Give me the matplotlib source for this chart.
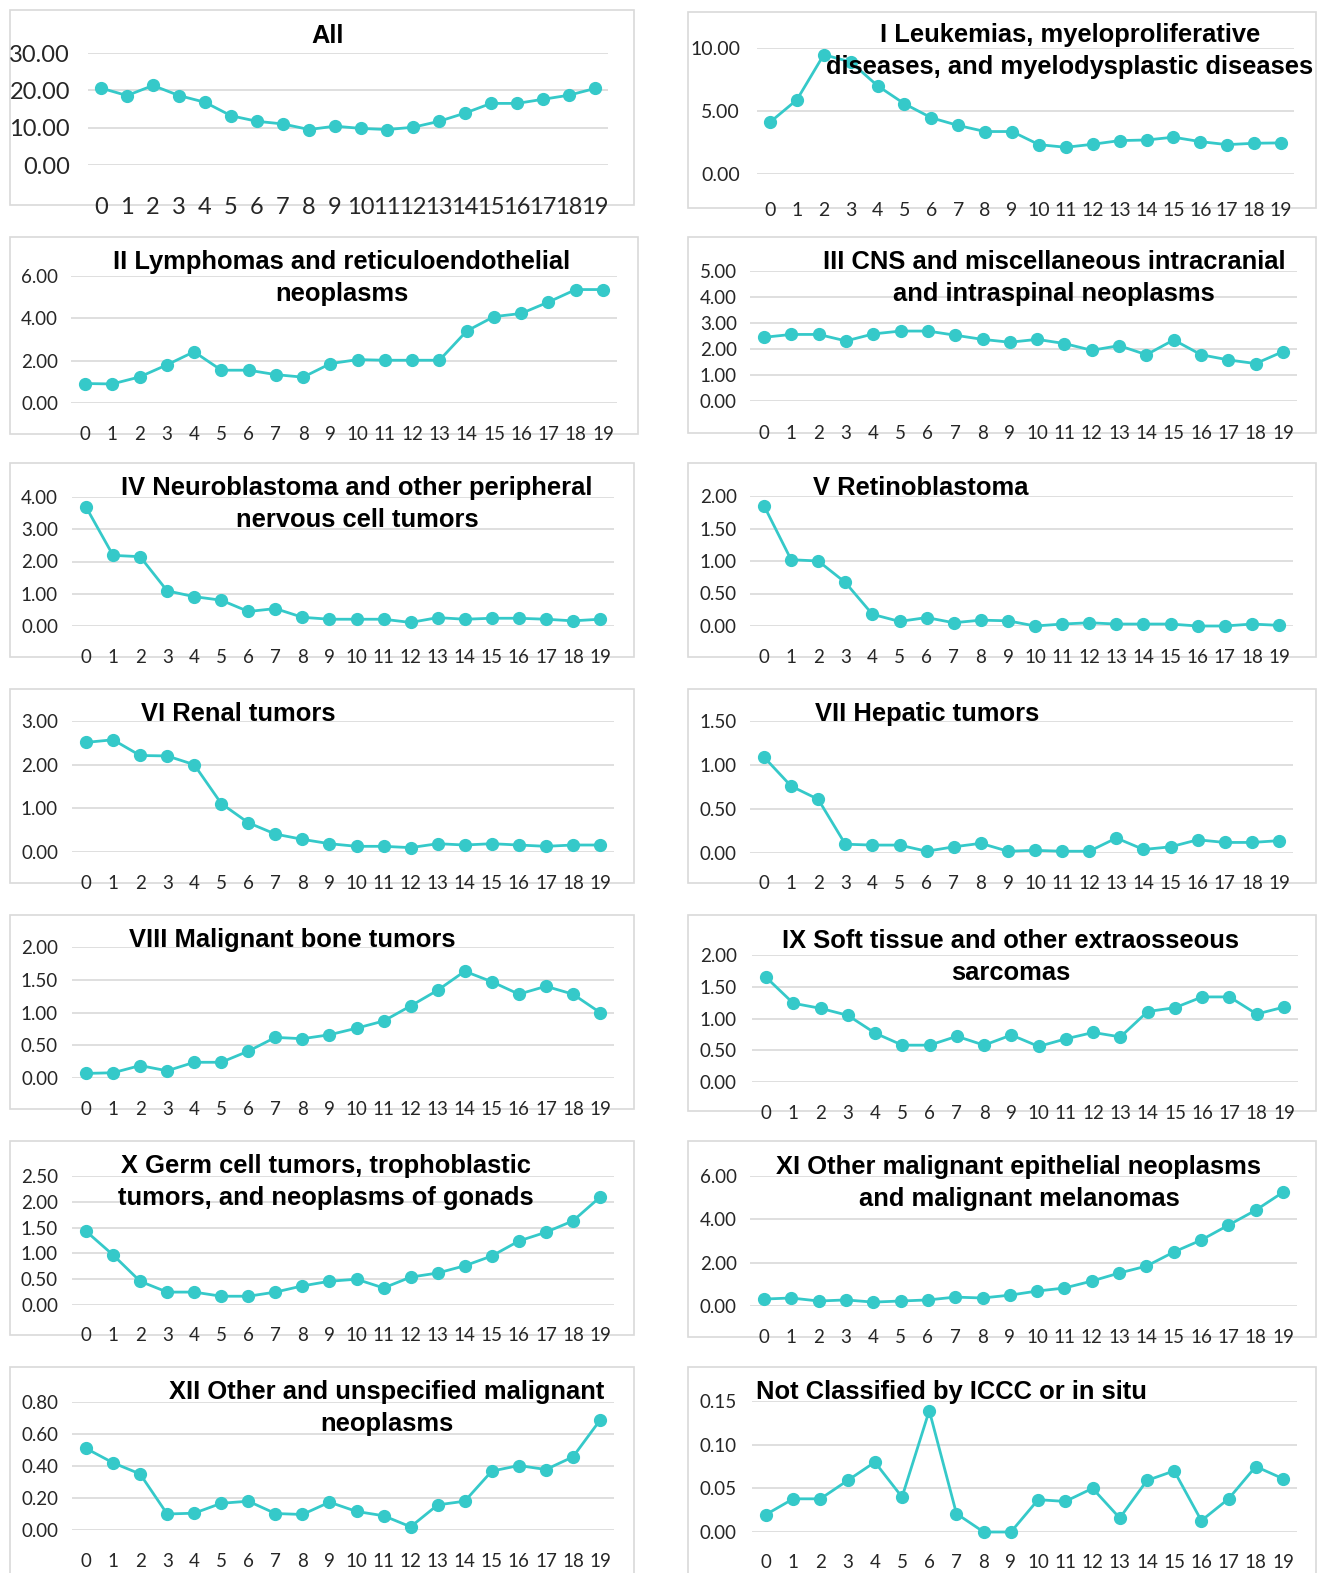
import matplotlib.pyplot as plt
from matplotlib.patches import Rectangle

W, H = 1320, 1573

# age at diagnosis (years)
ages = list(range(20))
age_labels = [str(a) for a in ages]

# incidence rates per panel
all_sites = [20.6, 18.6, 21.3, 18.6, 16.8, 13.2, 11.7, 11.0, 9.5, 10.4,
             9.8, 9.5, 10.1, 11.7, 13.9, 16.5, 16.5, 17.6, 18.7, 20.5]
leukemias = [4.11, 5.89, 9.47, 8.89, 7.00, 5.57, 4.46, 3.85, 3.37, 3.37,
             2.33, 2.12, 2.36, 2.65, 2.70, 2.92, 2.57, 2.33, 2.44, 2.47]
lymphomas = [0.92, 0.90, 1.23, 1.80, 2.42, 1.55, 1.55, 1.34, 1.22, 1.86,
             2.05, 2.02, 2.02, 2.02, 3.40, 4.08, 4.23, 4.77, 5.36, 5.36]
cns = [2.45, 2.56, 2.56, 2.31, 2.58, 2.69, 2.69, 2.53, 2.37, 2.26,
       2.37, 2.21, 1.95, 2.13, 1.78, 2.35, 1.78, 1.58, 1.44, 1.90]
neuroblastoma = [3.69, 2.19, 2.15, 1.09, 0.91, 0.80, 0.45, 0.54, 0.27, 0.21,
                 0.21, 0.21, 0.11, 0.26, 0.21, 0.24, 0.24, 0.21, 0.16, 0.21]
retinoblastoma = [1.85, 1.02, 1.00, 0.67, 0.18, 0.07, 0.13, 0.05, 0.09, 0.08,
                  0.00, 0.03, 0.05, 0.03, 0.03, 0.03, 0.00, 0.00, 0.03, 0.01]
renal = [2.51, 2.57, 2.21, 2.20, 2.00, 1.11, 0.67, 0.41, 0.29, 0.19,
         0.13, 0.13, 0.10, 0.19, 0.16, 0.19, 0.16, 0.13, 0.16, 0.16]
hepatic = [1.09, 0.76, 0.61, 0.10, 0.09, 0.09, 0.02, 0.07, 0.11, 0.02,
           0.03, 0.02, 0.02, 0.17, 0.04, 0.07, 0.15, 0.12, 0.12, 0.14]
bone = [0.07, 0.08, 0.19, 0.11, 0.24, 0.24, 0.41, 0.62, 0.60, 0.66,
        0.76, 0.87, 1.10, 1.34, 1.63, 1.47, 1.28, 1.40, 1.28, 1.00]
soft_tissue = [1.65, 1.24, 1.16, 1.05, 0.77, 0.58, 0.58, 0.72, 0.58, 0.74,
               0.56, 0.68, 0.78, 0.71, 1.11, 1.17, 1.34, 1.34, 1.07, 1.18]
germ_cell = [1.43, 0.97, 0.46, 0.25, 0.25, 0.17, 0.17, 0.25, 0.37, 0.46,
             0.50, 0.33, 0.54, 0.62, 0.76, 0.95, 1.24, 1.41, 1.63, 2.09]
epithelial = [0.32, 0.37, 0.23, 0.28, 0.18, 0.23, 0.28, 0.41, 0.37, 0.50,
              0.69, 0.83, 1.15, 1.52, 1.84, 2.49, 3.04, 3.73, 4.42, 5.25]
other_unspecified = [0.51, 0.42, 0.35, 0.10, 0.105, 0.167, 0.18, 0.103, 0.097, 0.174,
                     0.116, 0.089, 0.02, 0.157, 0.18, 0.368, 0.403, 0.378, 0.457, 0.686]
not_classified = [0.020, 0.038, 0.038, 0.059, 0.080, 0.040, 0.139, 0.021, 0.000, 0.000,
                  0.037, 0.035, 0.050, 0.016, 0.059, 0.070, 0.013, 0.038, 0.075, 0.061]

# y ticks per panel
ticks_all = [0, 10, 20, 30]
ticks_leuk = [0, 5, 10]
ticks_lymph = [0, 2, 4, 6]
ticks_cns = [0, 1, 2, 3, 4, 5]
ticks_neuro = [0, 1, 2, 3, 4]
ticks_retino = [0, 0.5, 1.0, 1.5, 2.0]
ticks_renal = [0, 1, 2, 3]
ticks_hepatic = [0, 0.5, 1.0, 1.5]
ticks_bone = [0, 0.5, 1.0, 1.5, 2.0]
ticks_soft = [0, 0.5, 1.0, 1.5, 2.0]
ticks_germ = [0, 0.5, 1.0, 1.5, 2.0, 2.5]
ticks_epi = [0, 2, 4, 6]
ticks_other = [0, 0.2, 0.4, 0.6, 0.8]
ticks_nc = [0, 0.05, 0.10, 0.15]

LINE_COLOR = '#35C9C9'
GRID_COLOR = '#D9D9D9'
TITLE_FONT = 'Liberation Sans'
TICK_FONT = 'Lato'

fig = plt.figure(figsize=(W / 100, H / 100), dpi=100)


def px_rect(x0, y0, x1, y1):
    return [x0 / W, 1 - y1 / H, (x1 - x0) / W, (y1 - y0) / H]


def panel(values, ticks, titles, frame, p0, p19, ytop, yzero, xlab_y, ylab_right,
          title_x, title_y, tick_size=13.5, title_size=18.4):
    # chart border
    fx0, fy0, fx1, fy1 = frame
    fig.add_artist(Rectangle((fx0 / W, 1 - fy1 / H), (fx1 - fx0) / W, (fy1 - fy0) / H,
                             transform=fig.transFigure, fill=False,
                             edgecolor=GRID_COLOR, lw=1.2, zorder=0))
    step = (p19 - p0) / 19
    left, right = p0 - step / 2, p19 + step / 2
    ax = fig.add_axes(px_rect(left, ytop, right, yzero))
    ax.plot(ages, values, color=LINE_COLOR, lw=2, marker='o', ms=8.5,
            clip_on=False, zorder=3)
    ax.set_xlim(-0.5, 19.5)
    ax.set_ylim(0, ticks[-1])
    ax.set_yticks(ticks)
    ax.set_yticklabels([f'{t:.2f}' for t in ticks])
    ax.set_xticks(ages)
    ax.set_xticklabels(age_labels)
    ax.grid(axis='y', color=GRID_COLOR, lw=1.2)
    ax.set_axisbelow(True)
    for s in ax.spines.values():
        s.set_visible(False)
    ax.tick_params(axis='y', length=0, pad=(left - ylab_right) * 0.72,
                   labelsize=tick_size)
    ax.tick_params(axis='x', length=0,
                   pad=(xlab_y - yzero - tick_size * 0.72 + 4) * 0.72,
                   labelsize=tick_size)
    for lab in ax.get_xticklabels() + ax.get_yticklabels():
        lab.set_fontfamily(TICK_FONT)
        lab.set_color('#262626')
    ax.patch.set_alpha(0)
    for i, line in enumerate(titles):
        fig.text(title_x / W, 1 - (title_y + 3 + 32 * i) / H, line, ha='center', va='center',
                 fontsize=title_size, fontweight='bold', family=TITLE_FONT, color='black')
    return ax


panel(all_sites, ticks_all, ['All'], (10, 10, 634, 205), 101, 595, 53, 165, 205, 70,
      328, 33, tick_size=17)
panel(leukemias, ticks_leuk, ['I Leukemias, myeloproliferative',
                              'diseases, and myelodysplastic diseases'],
      (688, 12, 1316, 208), 770, 1281, 48, 174, 208, 740, 1070, 32, tick_size=14)
panel(lymphomas, ticks_lymph, ['II Lymphomas and reticuloendothelial', 'neoplasms'],
      (10, 237, 638, 434), 85, 603, 276, 403, 432, 58, 342, 259)
panel(cns, ticks_cns, ['III CNS and miscellaneous intracranial',
                       'and intraspinal neoplasms'],
      (688, 237, 1316, 433), 764, 1283, 271, 401, 431, 737, 1054, 259)
panel(neuroblastoma, ticks_neuro, ['IV Neuroblastoma and other peripheral',
                                   'nervous cell tumors'],
      (10, 463, 634, 657), 86, 600, 497, 626, 655, 58, 357, 485)
panel(retinoblastoma, ticks_retino, ['V Retinoblastoma'],
      (688, 463, 1316, 657), 764, 1279, 496, 626, 655, 737, 921, 485)
panel(renal, ticks_renal, ['VI Renal tumors'],
      (10, 689, 634, 883), 86, 600, 721, 852, 881, 58, 238, 711)
panel(hepatic, ticks_hepatic, ['VII Hepatic tumors'],
      (688, 689, 1316, 883), 764, 1279, 721, 853, 881, 737, 927, 711)
panel(bone, ticks_bone, ['VIII Malignant bone tumors'],
      (10, 915, 634, 1109), 86, 600, 947, 1078, 1107, 58, 292, 937)
panel(soft_tissue, ticks_soft, ['IX Soft tissue and other extraosseous', 'sarcomas'],
      (688, 915, 1316, 1111), 766, 1284, 955, 1082, 1111, 737, 1011, 938)
panel(germ_cell, ticks_germ, ['X Germ cell tumors, trophoblastic',
                              'tumors, and neoplasms of gonads'],
      (10, 1141, 634, 1335), 86, 600, 1176, 1305, 1333, 58, 326, 1163)
panel(epithelial, ticks_epi, ['XI Other malignant epithelial neoplasms',
                              'and malignant melanomas'],
      (688, 1141, 1316, 1337), 764, 1283, 1176, 1306, 1335, 737, 1019, 1164)
panel(other_unspecified, ticks_other, ['XII Other and unspecified malignant', 'neoplasms'],
      (10, 1367, 634, 1590), 86, 600, 1402, 1530, 1559, 58, 387, 1389)
panel(not_classified, ticks_nc, ['Not Classified by ICCC or in situ'],
      (688, 1367, 1316, 1590), 766, 1283, 1401, 1532, 1560, 737, 951, 1389)

fig.savefig('out.png', dpi=100, facecolor='white')
